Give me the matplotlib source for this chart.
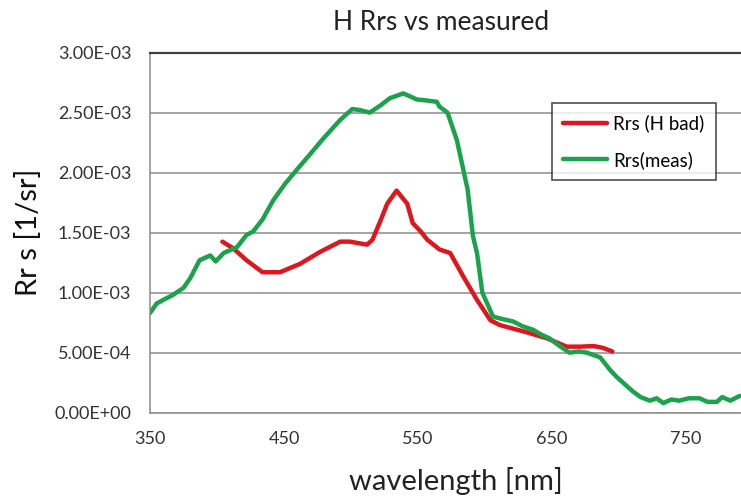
import numpy as np
import matplotlib
matplotlib.use("Agg")
import matplotlib.pyplot as plt
from matplotlib.ticker import FuncFormatter

# measured Rrs (green)
wl_meas = [350, 355, 360, 367, 375, 380, 387, 395, 399, 405, 415, 422, 427, 434,
           442, 451, 460, 470, 479, 492, 501, 507, 514, 522, 529, 539, 549, 557,
           564, 566, 572, 579, 587, 591, 594, 598, 606, 613, 621, 628, 636, 642,
           648, 655, 663, 670, 676, 681, 686, 693, 698, 703, 710, 716, 723, 728,
           733, 739, 745, 752, 760, 766, 773, 777, 783, 790]
rrs_meas = [0.83, 0.91, 0.94, 0.98, 1.04, 1.12, 1.27, 1.31, 1.26, 1.33, 1.38, 1.48,
            1.51, 1.61, 1.77, 1.91, 2.03, 2.16, 2.28, 2.44, 2.53, 2.52, 2.50, 2.56,
            2.62, 2.66, 2.61, 2.60, 2.59, 2.55, 2.50, 2.27, 1.86, 1.47, 1.33, 1.00,
            0.80, 0.78, 0.76, 0.72, 0.69, 0.65, 0.62, 0.56, 0.50, 0.51, 0.50, 0.48,
            0.46, 0.36, 0.30, 0.25, 0.18, 0.13, 0.10, 0.12, 0.08, 0.11, 0.10, 0.12,
            0.12, 0.09, 0.09, 0.13, 0.10, 0.14]

# modelled Rrs with bad H (red)
wl_hbad = [404, 412, 422, 434, 447, 462, 477, 492, 499, 512, 516, 522, 527, 534,
           542, 546, 552, 557, 566, 574, 584, 594, 604, 611, 631, 646, 661, 671,
           681, 688, 695]
rrs_hbad = [1.425, 1.37, 1.27, 1.17, 1.17, 1.24, 1.34, 1.425, 1.425, 1.40, 1.44,
            1.60, 1.74, 1.85, 1.74, 1.58, 1.51, 1.44, 1.36, 1.33, 1.13, 0.94, 0.77,
            0.73, 0.67, 0.62, 0.55, 0.55, 0.555, 0.54, 0.51]

x_ticks = [350, 450, 550, 650, 750]
y_ticks = [0, 0.5e-3, 1e-3, 1.5e-3, 2e-3, 2.5e-3, 3e-3]

plt.rcParams['font.family'] = ['Lato', 'DejaVu Sans']

fig = plt.figure(figsize=(7.41, 4.96), dpi=100)
ax = fig.add_axes([0.2024, 0.168, 0.7976, 0.726])

ax.plot(wl_hbad, np.array(rrs_hbad) * 1e-3, color='#E0161E', lw=3.2,
        label='Rrs (H bad)', solid_capstyle='round', solid_joinstyle='round')
ax.plot(wl_meas, np.array(rrs_meas) * 1e-3, color='#1BA34C', lw=3.2,
        label='Rrs(meas)', solid_capstyle='round', solid_joinstyle='round')

ax.set_xlim(350, 791)
ax.set_ylim(0, 3e-3)
ax.set_xticks(x_ticks)
ax.set_yticks(y_ticks)
ax.yaxis.set_major_formatter(FuncFormatter(lambda v, p: f"{v:.2E}"))
ax.tick_params(length=0, labelsize=13, colors='#333333')
ax.tick_params(axis='y', pad=13.5)
ax.tick_params(axis='x', pad=13)

ax.grid(axis='y', color='#8c8c8c', lw=1.1)
ax.set_axisbelow(True)
for s in ['left', 'bottom']:
    ax.spines[s].set_color('#8c8c8c')
    ax.spines[s].set_linewidth(1.1)
ax.spines['right'].set_visible(False)
ax.spines['top'].set_color('#404040')
ax.spines['top'].set_linewidth(1.6)

ax.set_xlabel('wavelength [nm]', fontsize=21, color='#222222', va='center')
ax.xaxis.set_label_coords(0.518, -0.19)
ax.set_ylabel('Rr s [1/sr]', fontsize=21, color='#111111', va='center')
ax.yaxis.set_label_coords(-0.206, 0.5)

fig.text(0.595, 0.955, 'H Rrs vs measured', ha='center', va='center',
         fontsize=19, color='#222222')

leg = ax.legend(loc='upper left', bbox_to_anchor=(0.680, 0.860), fontsize=13.5,
                frameon=True, fancybox=False, edgecolor='#222222',
                handlelength=2.35, labelspacing=1.0, borderpad=0.6,
                handletextpad=0.32, borderaxespad=0)
leg.get_frame().set_linewidth(1.2)

fig.savefig('out.png', dpi=100)
